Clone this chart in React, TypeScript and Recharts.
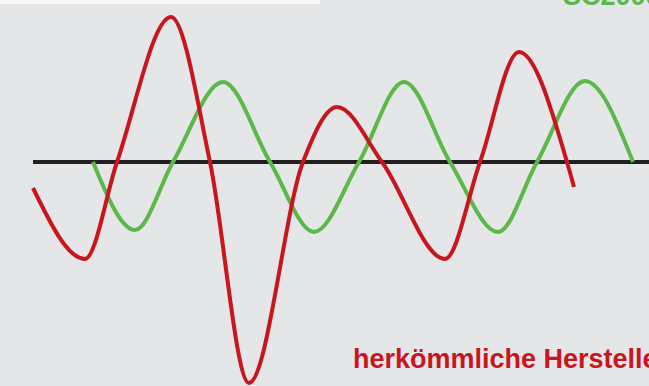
import { LineChart, Line, XAxis, YAxis, ReferenceLine } from 'recharts';

// time axis (arbitrary units) and amplitude relative to the black zero line
const redTime = [33, 85, 117, 171, 210, 249, 303, 337, 382, 445, 480, 519, 567, 574];
const redAmp = [-26, -97, 0, 145, 0, -221, 0, 55, 0, -97, 0, 110, 0, -25];

const greenTime = [93, 135, 173, 223, 270, 314, 359, 404, 450, 498, 537, 585, 633];
const greenAmp = [0, -68, 0, 80, 0, -70, 0, 80, 0, -70, 0, 81, 0];

const zeroLineStart = 33;
const timeDomain = [0, 649];
const ampDomain = [-224, 162];

const greenLabel = 'SC2000';
const redLabel = 'herkömmliche Hersteller';

const colors = {
  bg: '#e5e6e8',
  red: '#c8161e',
  green: '#5ab947',
  black: '#231f20',
};

const redData = redTime.map((t, i) => ({ t, v: redAmp[i] }));
const greenData = greenTime.map((t, i) => ({ t, v: greenAmp[i] }));

const App = () => {
  return (
    <div
      style={{
        position: 'fixed',
        left: 0,
        top: 0,
        width: 649,
        height: 386,
        background: colors.bg,
        overflow: 'hidden',
      }}
    >
      <div style={{ position: 'absolute', left: 0, top: 0, width: 320, height: 4, background: '#f8f8f9' }} />
      <LineChart width={649} height={386} margin={{ top: 0, right: 0, left: 0, bottom: 0 }}>
        <XAxis type='number' dataKey='t' domain={timeDomain} hide allowDataOverflow />
        <YAxis type='number' domain={ampDomain} hide allowDataOverflow />
        <ReferenceLine
          segment={[
            { x: zeroLineStart, y: 0 },
            { x: timeDomain[1], y: 0 },
          ]}
          stroke={colors.black}
          strokeWidth={4}
          ifOverflow='visible'
        />
        <Line
          data={greenData}
          dataKey='v'
          type='monotone'
          stroke={colors.green}
          strokeWidth={4}
          dot={false}
          activeDot={false}
          isAnimationActive={false}
        />
        <Line
          data={redData}
          dataKey='v'
          type='monotone'
          stroke={colors.red}
          strokeWidth={4}
          dot={false}
          activeDot={false}
          isAnimationActive={false}
        />
      </LineChart>
      <svg width={649} height={386} style={{ position: 'absolute', left: 0, top: 0, pointerEvents: 'none' }}>
        <text x={563} y={5} fill={colors.green} fontFamily='"Liberation Sans", Arial, sans-serif' fontWeight='bold' fontSize={27}>
          {greenLabel}
        </text>
        <text x={353} y={368} fill={colors.red} fontFamily='"Liberation Sans", Arial, sans-serif' fontWeight='bold' fontSize={27}>
          {redLabel}
        </text>
      </svg>
    </div>
  );
};

export default App;
